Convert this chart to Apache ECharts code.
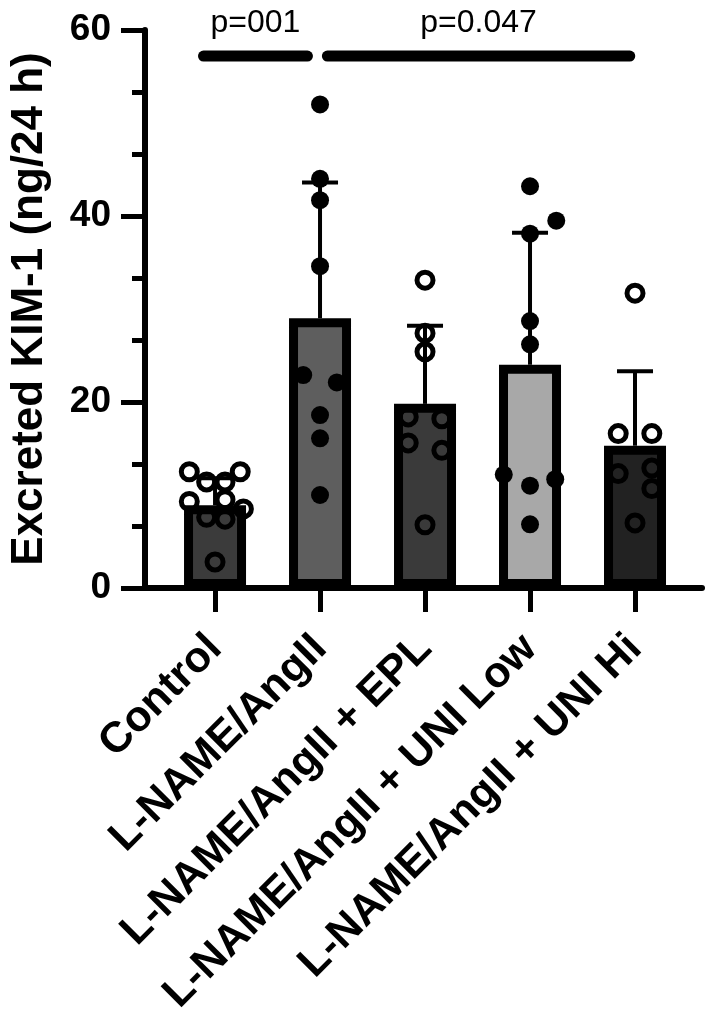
<!DOCTYPE html>
<html>
<head>
<meta charset="utf-8">
<script src="https://cdn.jsdelivr.net/npm/echarts@6/dist/echarts.min.js"></script>
<style>
  * { padding: 0; margin: 0; }
  html, body { width: 709px; height: 1016px; background: #fff; }
  #chart { width: 709px; height: 1016px; }
</style>
</head>
<body>
<div id="chart"></div>
<script>
// groups on the x axis
const groups = ['Control', 'L-NAME/AngII', 'L-NAME/AngII + EPL', 'L-NAME/AngII + UNI Low', 'L-NAME/AngII + UNI Hi'];
// bar heights (mean) and top of error bar (mean + SD)
const barMeans = [8.9, 29.0, 19.8, 24.0, 15.3];
const errTop = [11.8, 43.6, 28.2, 38.2, 23.3];

// individual animals, per group
const controlVals = [12.5, 12.5, 11.4, 11.4, 9.5, 9.3, 8.5, 7.6, 7.4, 2.8];
const angVals = [52.0, 44.0, 41.7, 34.6, 22.9, 22.1, 18.6, 16.1, 10.0];
const eplVals = [33.1, 27.4, 25.4, 18.4, 18.2, 15.6, 14.8, 6.8];
const uniLowVals = [43.2, 39.5, 38.1, 28.7, 26.2, 12.2, 11.7, 11.0, 6.85];
const uniHiVals = [31.7, 16.6, 16.6, 12.3, 12.9, 10.7, 7.0];

// horizontal scatter of the dots (in category units)
const controlJit = [-0.245, 0.24, -0.08, 0.095, 0.095, -0.245, 0.27, -0.08, 0.095, 0];
const angJit = [0, 0, 0, 0, -0.16, 0.16, 0, 0, 0];
const eplJit = [0, 0, 0, -0.16, 0.16, -0.16, 0.16, 0];
const uniLowJit = [0, 0.25, 0, 0, 0, -0.25, 0.24, 0, 0];
const uniHiJit = [0, -0.16, 0.16, -0.16, 0.16, 0.16, 0];

// significance brackets
const sigLabels = ['p=001', 'p=0.047'];
const sigFrom = [-0.11, 1.07];
const sigTo = [0.88, 3.95];
const sigY = [57.2, 57.2];

const barColors = ['#3b3b3b', '#5e5e5e', '#3a3a3a', '#a8a8a8', '#222222'];
const openDots = [true, false, true, false, true];
const font = 'Liberation Sans, Arial, Helvetica, sans-serif';

const allVals = [controlVals, angVals, eplVals, uniLowVals, uniHiVals];
const allJit = [controlJit, angJit, eplJit, uniLowJit, uniHiJit];

const openData = [];
const filledData = [];
allVals.forEach((vals, g) => {
  vals.forEach((v, i) => {
    const pt = [g + allJit[g][i], v];
    if (openDots[g]) openData.push(pt); else filledData.push(pt);
  });
});

const chart = echarts.init(document.getElementById('chart'), null, { renderer: 'canvas' });

chart.setOption({
  backgroundColor: '#fff',
  animation: false,
  grid: { left: 145, right: 7, top: 30, bottom: 428, outerBoundsMode: 'none' },
  xAxis: {
    type: 'value',
    min: -0.667,
    max: 4.638,
    axisLine: { show: true, onZero: false, lineStyle: { color: '#000', width: 6 } },
    axisTick: { show: true, length: 24, customValues: [0, 1, 2, 3, 4], lineStyle: { color: '#000', width: 5 } },
    axisLabel: {
      customValues: [0, 1, 2, 3, 4],
      formatter: (v) => groups[Math.round(v)],
      rotate: 45,
      margin: 54,
      color: '#000',
      fontSize: 43,
      fontWeight: 'bold',
      fontFamily: font
    },
    splitLine: { show: false }
  },
  yAxis: {
    type: 'value',
    min: 0,
    max: 60,
    interval: 20,
    name: 'Excreted KIM-1 (ng/24 h)',
    nameLocation: 'middle',
    nameGap: 93,
    nameTextStyle: { color: '#000', fontSize: 44, fontWeight: 'bold', fontFamily: font },
    axisLine: { show: true, onZero: false, lineStyle: { color: '#000', width: 6 } },
    axisTick: { show: true, length: 24, lineStyle: { color: '#000', width: 5 } },
    minorTick: { show: true, splitNumber: 3, length: 13, lineStyle: { color: '#000', width: 5 } },
    axisLabel: { margin: 34, color: '#000', fontSize: 37, fontWeight: 'bold', fontFamily: font },
    splitLine: { show: false }
  },
  series: [
    {
      type: 'bar',
      barWidth: 62,
      z: 2,
      data: barMeans.map((m, i) => ({
        value: [i, m],
        itemStyle: { color: barColors[i], borderColor: '#000', borderWidth: 9 }
      }))
    },
    {
      // upper error bars
      type: 'custom',
      z: 3,
      encode: { x: 0, y: [1, 2] },
      data: barMeans.map((m, i) => [i, m, errTop[i]]),
      renderItem: (params, api) => {
        const lo = api.coord([api.value(0), api.value(1)]);
        const hi = api.coord([api.value(0), api.value(2)]);
        const style = { stroke: '#000', lineWidth: 4 };
        return {
          type: 'group',
          children: [
            { type: 'line', shape: { x1: lo[0], y1: lo[1], x2: hi[0], y2: hi[1] }, style },
            { type: 'line', shape: { x1: hi[0] - 18, y1: hi[1], x2: hi[0] + 18, y2: hi[1] }, style }
          ]
        };
      }
    },
    {
      type: 'scatter',
      z: 4,
      symbol: 'circle',
      symbolSize: 18,
      itemStyle: { color: '#000', opacity: 1 },
      data: filledData
    },
    {
      type: 'scatter',
      z: 4,
      symbol: 'circle',
      symbolSize: 16,
      itemStyle: { color: 'transparent', borderColor: '#000', borderWidth: 5, opacity: 1 },
      data: openData
    },
    {
      // significance lines with p values
      type: 'custom',
      z: 5,
      clip: false,
      encode: { x: [0, 1], y: 2 },
      data: sigLabels.map((t, i) => [sigFrom[i], sigTo[i], sigY[i]]),
      renderItem: (params, api) => {
        const a = api.coord([api.value(0), api.value(2)]);
        const b = api.coord([api.value(1), api.value(2)]);
        return {
          type: 'group',
          children: [
            { type: 'line', shape: { x1: a[0], y1: a[1], x2: b[0], y2: b[1] },
              style: { stroke: '#000', lineWidth: 11, lineCap: 'round' } },
            { type: 'text', x: (a[0] + b[0]) / 2, y: a[1] - 17,
              style: { text: sigLabels[params.dataIndex], fill: '#000', fontSize: 32,
                       fontFamily: font, align: 'center', verticalAlign: 'bottom' } }
          ]
        };
      }
    }
  ]
});
</script>
</body>
</html>
